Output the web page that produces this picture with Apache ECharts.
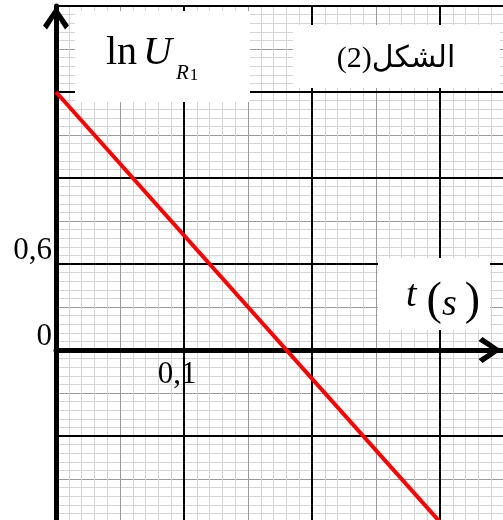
<!DOCTYPE html>
<html>
<head>
<meta charset="utf-8">
<script src="https://cdn.jsdelivr.net/npm/echarts@6/dist/echarts.min.js"></script>
<style>
  html, body { margin: 0; padding: 0; background: #fff; }
  #main { width: 503px; height: 520px; }
</style>
</head>
<body>
<div id="main"></div>
<script type="text/javascript">
// values
var tValues = [0, 0.3];          // t (s)
var lnUValues = [1.8, -1.2];     // ln U_R1
var tRange = [0, 0.35];
var lnURange = [-1.2, 2.4];
var tLabels = { '0.1': '0,1' };
var lnULabels = { '0': '0', '0.6': '0,6' };
var figTitle = 'الشكل(2)';

var serif = "'Liberation Serif', 'DejaVu Serif', serif";
var chevron = 'path://M0,19L13,0L26,19L22,23L13,9L4,23Z';

function pickLabel(map, v) {
    var key = String(Math.round(v * 1000) / 1000);
    return map[key] || '';
}

var lineData = [];
for (var i = 0; i < tValues.length; i++) {
    lineData.push([tValues[i], lnUValues[i]]);
}

var myChart = echarts.init(document.getElementById('main'));

var option = {
    animation: false,
    grid: [
        // the whole sheet of graph paper
        { left: 56, top: 6, width: 448, height: 516, outerBoundsMode: 'none', containLabel: false },
        // upper half only, so its bottom edge is the t axis (ln U = 0)
        { left: 56, top: 6, width: 448, height: 344, outerBoundsMode: 'none', containLabel: false }
    ],
    xAxis: [
        {   // mid + fine paper lines
            type: 'value', gridIndex: 0, position: 'bottom', min: tRange[0], max: tRange[1], interval: 0.05, z: 0,
            axisLine: { show: false }, axisTick: { show: false }, axisLabel: { show: false },
            splitLine: { show: true, lineStyle: { color: '#9a9a9a', width: 1 } },
            minorTick: { show: false, splitNumber: 5 },
            minorSplitLine: { show: true, lineStyle: { color: '#d4d4d4', width: 1 } }
        },
        {   // main paper lines
            type: 'value', gridIndex: 0, position: 'bottom', min: tRange[0], max: tRange[1], interval: 0.1, z: 1,
            axisLine: { show: false }, axisTick: { show: false }, axisLabel: { show: false },
            splitLine: { show: true, lineStyle: { color: '#000', width: 2 } }
        },
        {   // t axis with arrow and label
            type: 'value', gridIndex: 1, position: 'bottom', min: tRange[0], max: tRange[1], interval: 0.1, z: 2,
            axisLine: {
                show: true, onZero: false,
                lineStyle: { color: '#000', width: 5 },
                symbol: ['none', chevron], symbolSize: [26, 24], symbolOffset: [0, -14]
            },
            axisTick: { show: false },
            splitLine: { show: false },
            axisLabel: {
                show: true, margin: 9, color: '#000',
                fontFamily: serif, fontSize: 31, lineHeight: 31,
                padding: [0, 14, 0, 0],
                formatter: function (v) { return pickLabel(tLabels, v); }
            }
        }
    ],
    yAxis: [
        {
            type: 'value', gridIndex: 0, position: 'left', min: lnURange[0], max: lnURange[1], interval: 0.3, z: 0,
            axisLine: { show: false }, axisTick: { show: false }, axisLabel: { show: false },
            splitLine: { show: true, lineStyle: { color: '#9a9a9a', width: 1 } },
            minorTick: { show: false, splitNumber: 5 },
            minorSplitLine: { show: true, lineStyle: { color: '#d4d4d4', width: 1 } }
        },
        {
            type: 'value', gridIndex: 0, position: 'left', min: lnURange[0], max: lnURange[1], interval: 0.6, z: 2,
            axisLine: {
                show: true, onZero: false,
                lineStyle: { color: '#000', width: 5 },
                symbol: ['none', chevron], symbolSize: [26, 24], symbolOffset: [0, -12]
            },
            axisTick: { show: false },
            axisLabel: {
                show: true, margin: 4, color: '#000',
                fontFamily: serif, fontSize: 31, lineHeight: 27,
                verticalAlign: 'bottom',
                formatter: function (v) { return pickLabel(lnULabels, v); }
            },
            splitLine: { show: true, lineStyle: { color: '#000', width: 2 } }
        },
        {
            type: 'value', gridIndex: 1, min: 0, max: lnURange[1], show: false
        }
    ],
    graphic: [
        { type: 'rect', z: 10, shape: { x: 75, y: 11, width: 175, height: 91 }, style: { fill: '#fff' } },
        {
            type: 'text', z: 11, x: 106, y: 53,
            style: {
                text: '{ln|ln}{u|U}{r|R}{one|1}',
                verticalAlign: 'middle', align: 'left',
                rich: {
                    ln: { fontFamily: serif, fontSize: 40, lineHeight: 44, fill: '#000', padding: [0, 6, 0, 0] },
                    u: { fontFamily: serif, fontSize: 40, fontStyle: 'italic', lineHeight: 44, fill: '#000', padding: [0, 4, 0, 0] },
                    r: { fontFamily: serif, fontSize: 21, fontStyle: 'italic', lineHeight: 20, fill: '#000', padding: [40, 0, 0, 0] },
                    one: { fontFamily: serif, fontSize: 17, lineHeight: 18, fill: '#000', padding: [46, 0, 0, 1] }
                }
            }
        },
        { type: 'rect', z: 10, shape: { x: 293, y: 25, width: 207, height: 63 }, style: { fill: '#fff' } },
        {
            type: 'text', z: 11, x: 396, y: 59,
            style: {
                text: '\u202B' + figTitle + '\u202C',
                font: "30px 'Liberation Serif', 'DejaVu Sans', sans-serif",
                fill: '#000', align: 'center', verticalAlign: 'middle'
            }
        },
        { type: 'rect', z: 10, shape: { x: 378, y: 258, width: 112, height: 72 }, style: { fill: '#fff' } },
        {
            type: 'text', z: 11, x: 406, y: 302,
            style: {
                text: '{t|t}{p|(}{s|s}{p2|)}',
                verticalAlign: 'middle', align: 'left',
                rich: {
                    t: { fontFamily: serif, fontSize: 38, fontStyle: 'italic', fill: '#000', padding: [0, 10, 12, 0] },
                    p: { fontFamily: serif, fontSize: 46, fill: '#000', padding: [0, 0, 0, 0] },
                    s: { fontFamily: serif, fontSize: 38, fontStyle: 'italic', fill: '#000', padding: [6, 0, 0, 0] },
                    p2: { fontFamily: serif, fontSize: 46, fill: '#000', padding: [0, 0, 0, 8] }
                }
            }
        }
    ],
    series: [
        {
            type: 'line',
            xAxisIndex: 0, yAxisIndex: 0,
            data: lineData,
            showSymbol: false,
            clip: false,
            z: 5,
            lineStyle: { color: '#ff0000', width: 4 }
        }
    ]
};
myChart.setOption(option);
</script>
</body>
</html>
